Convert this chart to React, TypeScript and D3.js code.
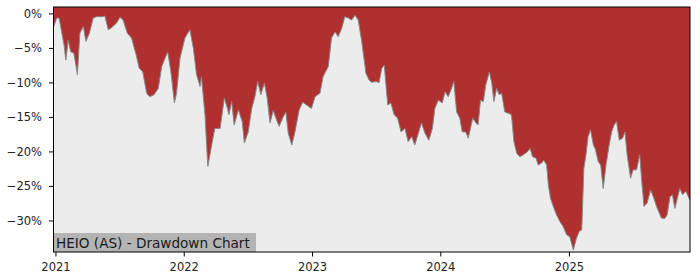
import React from "react";
import * as d3 from "d3";

const dates: string[] = [
  "2020-12-25","2020-12-26","2021-01-03","2021-01-10","2021-01-17","2021-01-24","2021-01-29","2021-02-05","2021-02-12","2021-02-21",
  "2021-03-03","2021-03-10","2021-03-20","2021-03-27","2021-04-06","2021-04-17","2021-04-27","2021-05-11","2021-05-20","2021-05-30",
  "2021-06-08","2021-06-23","2021-07-02","2021-07-11","2021-07-23","2021-08-04","2021-08-17","2021-08-26","2021-09-05","2021-09-16",
  "2021-09-25","2021-10-07","2021-10-19","2021-10-29","2021-11-15","2021-11-24","2021-12-04","2021-12-10","2021-12-20","2022-01-03",
  "2022-01-17","2022-01-27","2022-02-05","2022-02-15","2022-02-19","2022-03-01","2022-03-09","2022-03-20","2022-03-29","2022-04-13",
  "2022-04-25","2022-05-04","2022-05-08","2022-05-16","2022-05-23","2022-06-04","2022-06-15","2022-06-21","2022-07-02","2022-07-12",
  "2022-07-21","2022-07-29","2022-08-07","2022-08-17","2022-08-25","2022-09-02","2022-09-11","2022-09-21","2022-09-28","2022-10-08",
  "2022-10-17","2022-10-24","2022-11-03","2022-11-12","2022-11-24","2022-12-04","2022-12-15","2022-12-29","2023-01-08","2023-01-22",
  "2023-01-31","2023-02-15","2023-02-24","2023-03-06","2023-03-15","2023-03-25","2023-04-03","2023-04-13","2023-04-22","2023-05-02",
  "2023-05-11","2023-05-21","2023-06-02","2023-06-11","2023-06-18","2023-07-02","2023-07-09","2023-07-17","2023-07-24","2023-08-03",
  "2023-08-12","2023-08-21","2023-08-31","2023-09-10","2023-09-21","2023-09-30","2023-10-10","2023-10-19","2023-10-29","2023-11-07",
  "2023-11-17","2023-11-28","2023-12-08","2023-12-15","2023-12-25","2024-01-05","2024-01-13","2024-01-22","2024-01-30","2024-02-07",
  "2024-02-15","2024-02-24","2024-03-02","2024-03-12","2024-03-19","2024-04-01","2024-04-10","2024-04-16","2024-04-23","2024-05-01",
  "2024-05-08","2024-05-18","2024-05-25","2024-05-31","2024-06-08","2024-06-15","2024-06-22","2024-07-01","2024-07-11","2024-07-20",
  "2024-07-27","2024-08-04","2024-08-13","2024-08-23","2024-09-03","2024-09-11","2024-09-18","2024-09-28","2024-10-04","2024-10-14",
  "2024-10-20","2024-10-28","2024-11-02","2024-11-08","2024-11-16","2024-11-25","2024-12-05","2024-12-14","2024-12-24","2025-01-02",
  "2025-01-12","2025-01-21","2025-01-29","2025-02-05","2025-02-11","2025-02-17","2025-02-23","2025-03-02","2025-03-10","2025-03-15",
  "2025-03-24","2025-03-31","2025-04-07","2025-04-15","2025-04-24","2025-05-01","2025-05-08","2025-05-15","2025-05-23","2025-06-01",
  "2025-06-08","2025-06-14","2025-06-24","2025-07-01","2025-07-11","2025-07-20","2025-07-25","2025-08-01","2025-08-10","2025-08-20",
  "2025-08-29","2025-09-08","2025-09-20","2025-09-30","2025-10-06","2025-10-14","2025-10-21","2025-10-28","2025-11-04","2025-11-11",
  "2025-11-19","2025-11-28","2025-12-10"
];

const drawdown: number[] = [
  -2.0,-1.8,-0.6,-0.6,-2.6,-4.5,-6.7,-3.8,-5.5,-5.7,
  -8.8,-2.8,-1.8,-4.0,-2.8,-0.6,-0.4,-0.4,-0.3,-2.3,
  -2.0,-1.3,-0.5,-0.9,-2.8,-3.5,-5.9,-7.9,-8.4,-11.5,
  -12.0,-11.7,-10.8,-7.6,-5.5,-8.4,-12.9,-11.5,-6.4,-3.5,
  -2.3,-5.0,-8.8,-10.5,-9.1,-14.6,-22.1,-19.0,-16.6,-16.6,
  -12.2,-13.7,-14.6,-12.7,-16.1,-13.9,-15.6,-18.7,-17.1,-13.7,
  -12.0,-9.8,-11.7,-10.0,-12.2,-15.8,-14.0,-15.4,-16.3,-15.1,
  -14.2,-17.3,-19.0,-17.1,-13.9,-12.8,-13.2,-13.7,-12.0,-11.5,
  -9.1,-7.6,-3.5,-2.6,-3.3,-2.1,-0.4,-0.6,-0.9,-0.2,
  -0.9,-4.0,-8.6,-9.6,-9.9,-9.8,-10.0,-7.9,-7.4,-13.2,
  -12.9,-14.6,-15.1,-17.1,-16.6,-18.5,-17.8,-19.0,-17.3,-15.8,
  -17.3,-18.3,-16.6,-13.7,-12.5,-12.9,-11.3,-12.0,-11.0,-9.8,
  -14.2,-15.1,-17.1,-17.1,-18.0,-15.1,-15.8,-16.1,-12.5,-12.7,
  -10.3,-8.4,-10.0,-12.7,-10.8,-11.7,-11.5,-14.2,-14.4,-14.6,
  -18.5,-20.2,-20.7,-20.4,-20.0,-19.5,-20.7,-20.9,-21.9,-21.6,
  -21.2,-21.9,-24.8,-26.7,-27.9,-29.1,-30.1,-30.8,-32.0,-32.3,
  -34.2,-32.5,-31.5,-31.3,-22.4,-20.4,-17.8,-16.8,-19.0,-19.5,
  -21.4,-21.9,-25.3,-21.9,-19.0,-17.1,-16.1,-15.6,-18.3,-18.0,
  -17.1,-20.4,-23.8,-22.6,-22.6,-20.4,-23.8,-27.9,-27.4,-25.5,
  -26.7,-28.2,-29.6,-29.6,-29.1,-26.5,-26.2,-28.2,-26.7,-25.3,
  -26.2,-25.7,-27.0
];

const yTicks: number[] = [0, -5, -10, -15, -20, -25, -30];
const xTickLabels: string[] = ["2021", "2022", "2023", "2024", "2025"];
const title = "HEIO (AS) - Drawdown Chart";

export default function App() {
  const W = 700, H = 280;
  const left = 53.5, right = 690, top = 7, bottom = 252;
  const parse = d3.timeParse("%Y-%m-%d");
  const data = dates.map((d, i) => ({ date: parse(d) as Date, v: drawdown[i] }));
  const x = d3.scaleTime()
    .domain([data[0].date, data[data.length - 1].date])
    .range([left, right]);
  const y = d3.scaleLinear().domain([-34.5, 1]).range([bottom, top]);

  const area = d3.area<{ date: Date; v: number }>()
    .x((d) => x(d.date))
    .y0(top)
    .y1((d) => y(d.v));
  const line = d3.line<{ date: Date; v: number }>()
    .x((d) => x(d.date))
    .y((d) => y(d.v));

  const font = "DejaVu Sans, sans-serif";
  return (
    <svg width={W} height={H} style={{ position: "absolute", left: 0, top: 0, background: "#fff" }}>
      <rect x={left} y={top} width={right - left} height={bottom - top} fill="#ececec" />
      <path d={area(data) || ""} fill="#b03030" />
      <path d={line(data) || ""} fill="none" stroke="#888" strokeWidth={1} />
      <rect x={left} y={233} width={202.5} height={bottom - 233} fill="#b4b4b4" />
      <text x={56} y={247.5} fontFamily={font} fontSize={13.6} fill="#1a1a1a">{title}</text>
      <rect x={left} y={top} width={right - left} height={bottom - top} fill="none" stroke="#000" strokeWidth={1} />
      {yTicks.map((t) => (
        <g key={t}>
          <line x1={left - 4.5} x2={left} y1={y(t)} y2={y(t)} stroke="#000" strokeWidth={1} />
          <text x={42} y={y(t)} dy="0.35em" textAnchor="end" fontFamily={font} fontSize={11.5} fill="#222">
            {(t < 0 ? "\u2212" + Math.abs(t) : String(t)) + "%"}
          </text>
        </g>
      ))}
      {xTickLabels.map((lab) => {
        const xp = x(parse(lab + "-01-01") as Date);
        return (
          <g key={lab}>
            <line x1={xp} x2={xp} y1={bottom} y2={bottom + 4.5} stroke="#000" strokeWidth={1} />
            <text x={xp} y={271} textAnchor="middle" fontFamily={font} fontSize={11.5} fill="#222">{lab}</text>
          </g>
        );
      })}
    </svg>
  );
}
